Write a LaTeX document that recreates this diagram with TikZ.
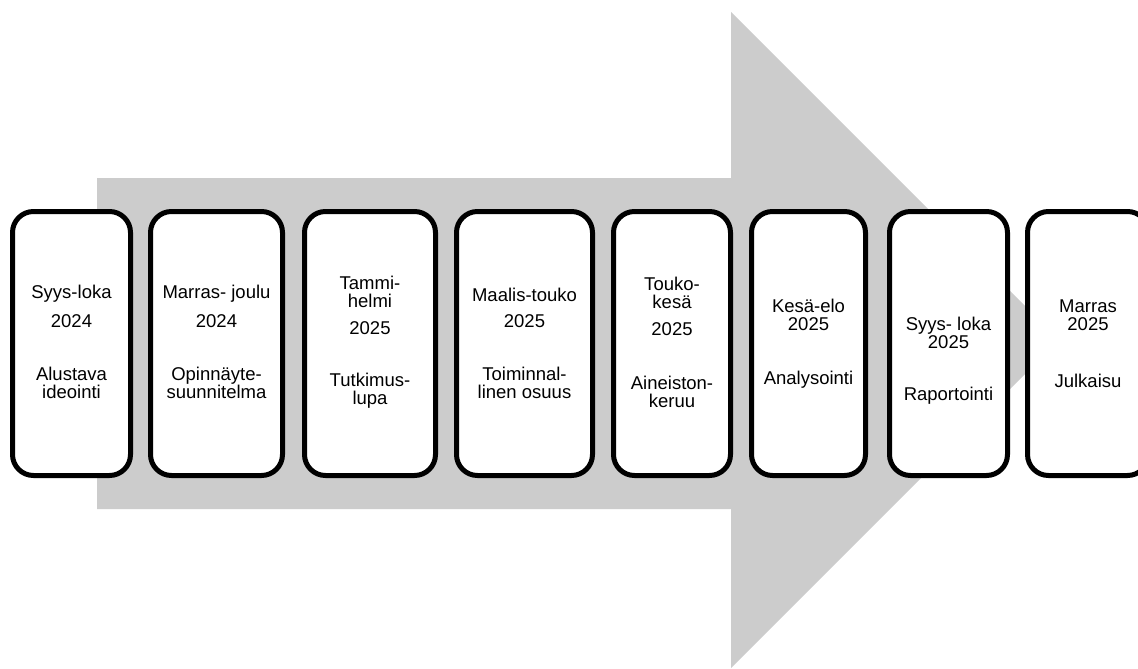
\documentclass[tikz,border=0pt]{standalone}
\usepackage{fontspec}
\setmainfont{Liberation Sans}
\definecolor{arrowgray}{RGB}{204,204,204}
\begin{document}
\begin{tikzpicture}[x=1pt,y=-1pt,
  phase/.style={draw=black,line width=5pt,fill=white,rounded corners=21pt},
  lbl/.style={font=\fontsize{18.5}{18}\selectfont,align=center,inner sep=0pt,anchor=center}]
\clip (0,0) rectangle (1138,669);
\fill[white] (0,0) rectangle (1138,669);
% big arrow
\fill[arrowgray] (97,178) -- (731,178) -- (731,12) -- (1059,340) -- (731,668) -- (731,509) -- (97,509) -- cycle;
% boxes
\draw[phase] (12.5,211.5) rectangle (130.5,475.5);
\node (b1) at (71.5,343.5) {};
\draw[phase] (150.5,211.5) rectangle (282.5,475.5);
\node (b2) at (216.5,343.5) {};
\draw[phase] (304.5,211.5) rectangle (435.5,475.5);
\node (b3) at (370,343.5) {};
\draw[phase] (456.5,211.5) rectangle (592.5,475.5);
\node (b4) at (524.5,343.5) {};
\draw[phase] (613.5,211.5) rectangle (730.5,475.5);
\node (b5) at (672,343.5) {};
\draw[phase] (751.5,211.5) rectangle (865.5,475.5);
\node (b6) at (808.5,343.5) {};
\draw[phase] (889.5,211.5) rectangle (1007.5,475.5);
\node (b7) at (948.5,343.5) {};
\draw[phase] (1027.5,211.5) rectangle (1148.5,475.5);
\node (b8) at (1088,343.5) {};
% texts
\node[lbl] (t1a) at (71.5,294) {Syys-loka};
\node[lbl] (t1b) at (71.5,321) {2024};
\node[lbl] (t1c) at (71.5,383) {Alustava\\ideointi};
\node[lbl] (t2a) at (216.5,294) {Marras- joulu};
\node[lbl] (t2b) at (216.5,321) {2024};
\node[lbl] (t2c) at (216.5,383) {Opinnäyte-\\suunnitelma};
\node[lbl] (t3a) at (370,292) {Tammi-\\helmi};
\node[lbl] (t3b) at (370,328) {2025};
\node[lbl] (t3c) at (370,391) {Tutkimus-\\lupa};
\node[lbl] (t4a) at (524.5,295) {Maalis-touko};
\node[lbl] (t4b) at (524.5,321) {2025};
\node[lbl] (t4c) at (524.5,383) {Toiminnal-\\linen osuus};
\node[lbl] (t5a) at (672,293) {Touko-\\kesä};
\node[lbl] (t5b) at (672,329) {2025};
\node[lbl] (t5c) at (672,392) {Aineiston-\\keruu};
\node[lbl] (t6a) at (808.5,315) {Kesä-elo\\2025};
\node[lbl] (t6c) at (808.5,380) {Analysointi};
\node[lbl] (t7a) at (948.5,333) {Syys- loka\\2025};
\node[lbl] (t7c) at (948.5,396) {Raportointi};
\node[lbl] (t8a) at (1088,315) {Marras\\2025};
\node[lbl] (t8c) at (1088,381) {Julkaisu};
\end{tikzpicture}
\end{document}
